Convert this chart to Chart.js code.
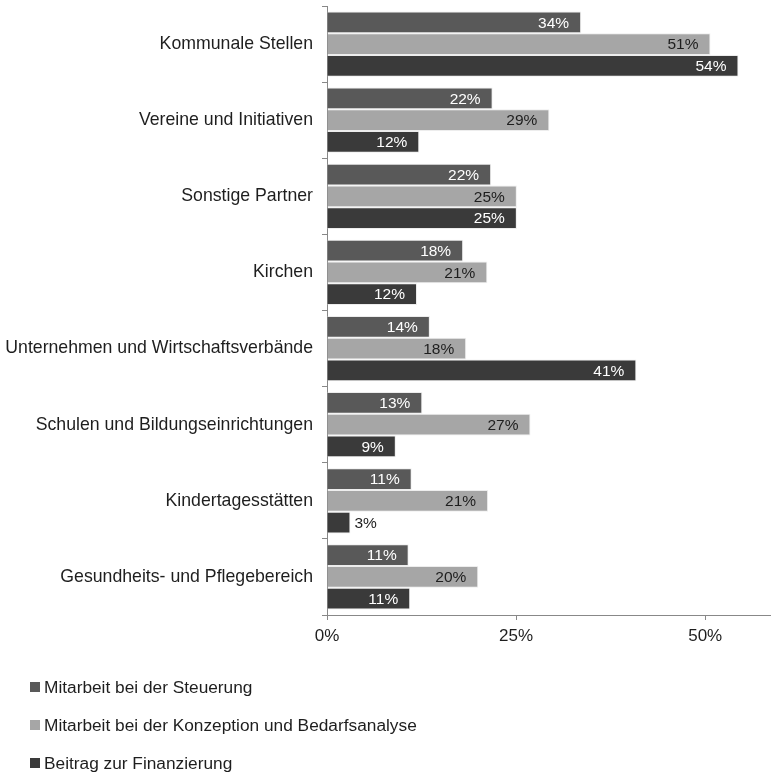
<!DOCTYPE html>
<html>
<head>
<meta charset="utf-8">
<script src="https://cdn.jsdelivr.net/npm/chart.js@4/dist/chart.umd.min.js"></script>
<style>
  html, body { margin: 0; padding: 0; background: #fff; overflow: hidden; }
  #wrap { width: 771px; height: 773px; position: relative; }
</style>
</head>
<body>
<div id="wrap"><canvas id="beteiligungChart"></canvas></div>
<script>
const categories = [
  'Kommunale Stellen',
  'Vereine und Initiativen',
  'Sonstige Partner',
  'Kirchen',
  'Unternehmen und Wirtschaftsverbände',
  'Schulen und Bildungseinrichtungen',
  'Kindertagesstätten',
  'Gesundheits- und Pflegebereich'
];
const steuerung = [33.6, 21.9, 21.7, 18.0, 13.6, 12.6, 11.2, 10.8];
const konzeption = [50.7, 29.4, 25.1, 21.2, 18.4, 26.9, 21.3, 20.0];
const finanzierung = [54.4, 12.2, 25.1, 11.9, 40.9, 9.1, 3.1, 11.0];
const seriesNames = [
  'Mitarbeit bei der Steuerung',
  'Mitarbeit bei der Konzeption und Bedarfsanalyse',
  'Beitrag zur Finanzierung'
];
const xTicks = [0, 25, 50];

const colors = ['#595959', '#a6a6a6', '#3a3a3a'];
const labelColors = ['#ffffff', '#1e1e1e', '#ffffff'];
const FONT = '"Liberation Sans", Arial, sans-serif';

// bar value labels, inside the bar end (or just outside if too short)
const valueLabels = {
  id: 'valueLabels',
  afterDatasetsDraw(chart) {
    const ctx = chart.ctx;
    ctx.save();
    ctx.font = '15.5px ' + FONT;
    ctx.textBaseline = 'middle';
    chart.data.datasets.forEach((ds, i) => {
      chart.getDatasetMeta(i).data.forEach((bar, j) => {
        const txt = Math.round(ds.data[j]) + '%';
        const w = ctx.measureText(txt).width;
        if (bar.x - bar.base > w + 16) {
          ctx.fillStyle = labelColors[i];
          ctx.textAlign = 'right';
          ctx.fillText(txt, bar.x - 12, bar.y + 1);
        } else {
          ctx.fillStyle = '#1e1e1e';
          ctx.textAlign = 'left';
          ctx.fillText(txt, bar.x + 4, bar.y + 1);
        }
      });
    });
    ctx.restore();
  }
};

// vertical legend under the chart
const stackedLegend = {
  id: 'stackedLegend',
  afterDraw(chart) {
    const ctx = chart.ctx;
    ctx.save();
    ctx.font = '17.3px ' + FONT;
    ctx.textBaseline = 'middle';
    ctx.textAlign = 'left';
    chart.data.datasets.forEach((ds, i) => {
      const y = 687 + i * 38;
      ctx.fillStyle = ds.backgroundColor;
      ctx.fillRect(30, y - 5, 10, 10);
      ctx.fillStyle = '#1e1e1e';
      ctx.fillText(ds.label, 44, y + 1);
    });
    ctx.restore();
  }
};

const ctx = document.getElementById('beteiligungChart').getContext('2d');
new Chart(ctx, {
  type: 'bar',
  data: {
    labels: categories,
    datasets: [steuerung, konzeption, finanzierung].map((d, i) => ({
      label: seriesNames[i],
      data: d,
      backgroundColor: colors[i],
      borderColor: 'rgba(235,235,235,0.9)',
      borderWidth: 1,
      categoryPercentage: 0.857,
      barPercentage: 1
    }))
  },
  options: {
    indexAxis: 'y',
    responsive: true,
    maintainAspectRatio: false,
    animation: false,
    layout: { padding: { top: 6, bottom: 126, left: 0, right: 0 } },
    plugins: {
      legend: { display: false },
      tooltip: { enabled: false }
    },
    scales: {
      x: {
        min: 0,
        max: 58.7,
        afterBuildTicks(scale) { scale.ticks = xTicks.map(v => ({ value: v })); },
        afterFit(scale) { scale.height = 32; },
        ticks: {
          font: { family: FONT, size: 17 },
          color: '#1e1e1e',
          padding: 6,
          callback: v => v + '%'
        },
        grid: { drawOnChartArea: false, tickLength: 5, color: '#888' },
        border: { color: '#888', width: 1 }
      },
      y: {
        afterFit(scale) { scale.width = 327; scale.paddingTop = 0; scale.paddingBottom = 0; },
        ticks: {
          font: { family: FONT, size: 17.7 },
          color: '#1e1e1e',
          padding: 9
        },
        grid: { offset: true, drawOnChartArea: false, tickLength: 5, color: '#888' },
        border: { color: '#888', width: 1 }
      }
    }
  },
  plugins: [valueLabels, stackedLegend]
});
</script>
</body>
</html>
